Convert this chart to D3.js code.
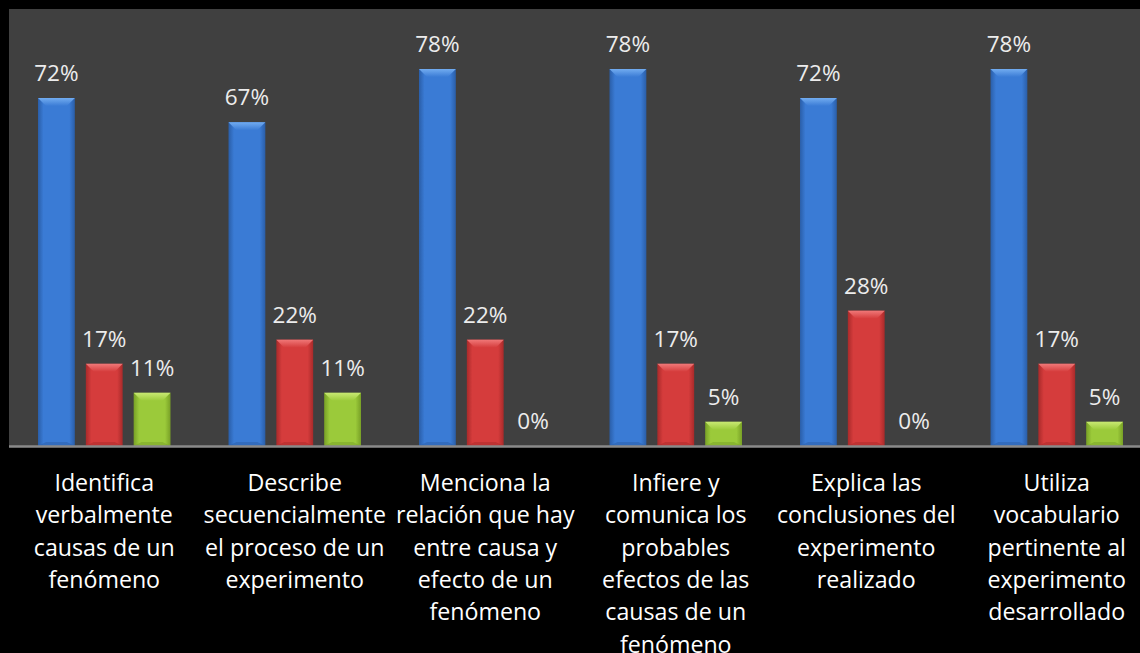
<!DOCTYPE html>
<html><head><meta charset="utf-8">
<script src="https://cdn.jsdelivr.net/npm/d3@7"></script>
<style>html,body{margin:0;padding:0;background:#000;overflow:hidden}</style>
</head><body><svg id="c" width="1140" height="653"></svg>
<script>
const categories = [
  ["Identifica","verbalmente","causas de un","fenómeno"],
  ["Describe","secuencialmente","el proceso de un","experimento"],
  ["Menciona la","relación que hay","entre causa y","efecto de un","fenómeno"],
  ["Infiere y","comunica los","probables","efectos de las","causas de un","fenómeno"],
  ["Explica las","conclusiones del","experimento","realizado"],
  ["Utiliza","vocabulario","pertinente al","experimento","desarrollado"]
];
const seriesA = [0.72, 0.67, 0.78, 0.78, 0.72, 0.78];
const seriesB = [0.17, 0.22, 0.22, 0.17, 0.28, 0.17];
const seriesC = [0.11, 0.11, 0.00, 0.05, 0.00, 0.05];
const seriesNames = ["A","B","C"];
const colors = [
  {main:"#3a7bd5", dark:"#2a5ea8", light:"#72acf0"},
  {main:"#d53c3c", dark:"#a92a2a", light:"#f07878"},
  {main:"#9bca3a", dark:"#78a026", light:"#c8e872"}
];

const svg = d3.select("#c");
const W = 1140, H = 653;
svg.append("rect").attr("width",W).attr("height",H).attr("fill","#000");
const pLeft = 9, pRight = 1152, pTop = 9, base = 446;
svg.append("rect").attr("x",pLeft).attr("y",pTop).attr("width",W-pLeft).attr("height",base-pTop).attr("fill","#404040");

const x0 = d3.scaleBand().domain(d3.range(categories.length)).range([pLeft,pRight]).paddingInner(0).paddingOuter(0);
const x1 = d3.scaleBand().domain(seriesNames).range([29, x0.bandwidth()-29]).paddingInner(0.23).paddingOuter(0);
const y = d3.scaleLinear().domain([0,0.9]).range([base, 11]);

const defs = svg.append("defs");
colors.forEach((c,i)=>{
  const g = defs.append("linearGradient").attr("id","g"+i).attr("x1","0").attr("x2","1").attr("y1","0").attr("y2","0");
  g.append("stop").attr("offset","0").attr("stop-color",c.dark);
  g.append("stop").attr("offset","0.15").attr("stop-color",c.main);
  g.append("stop").attr("offset","0.85").attr("stop-color",c.main);
  g.append("stop").attr("offset","1").attr("stop-color",c.dark);
  const t = defs.append("linearGradient").attr("id","t"+i).attr("x1","0").attr("x2","0").attr("y1","0").attr("y2","1");
  t.append("stop").attr("offset","0").attr("stop-color",c.light);
  t.append("stop").attr("offset","1").attr("stop-color",c.main);
});

const all = [seriesA, seriesB, seriesC];
const fmt = d3.format(".0%");
categories.forEach((cat,ci)=>{
  const g = svg.append("g").attr("transform",`translate(${x0(ci)},0)`);
  all.forEach((s,si)=>{
    const v = s[ci];
    const bx = x1(seriesNames[si]), bw = x1.bandwidth();
    const ty = y(v), h = base - ty;
    if (h > 0) {
      g.append("rect").attr("x",bx).attr("y",ty).attr("width",bw).attr("height",h).attr("fill",`url(#g${si})`);
      const b = Math.min(8, h/2);
      g.append("polygon").attr("points",`${bx},${ty} ${bx+bw},${ty} ${bx+bw-b},${ty+b} ${bx+b},${ty+b}`).attr("fill",`url(#t${si})`);
      g.append("polygon").attr("points",`${bx},${base} ${bx+bw},${base} ${bx+bw-b},${base-b/2} ${bx+b},${base-b/2}`).attr("fill",colors[si].dark).attr("opacity",0.5);
    }
    g.append("text").attr("x",bx+bw/2).attr("y",ty-17).attr("text-anchor","middle")
      .attr("font-family","'Open Sans', sans-serif").attr("font-size",22.5).attr("fill","#ececec").text(fmt(v));
  });
  const t = g.append("text").attr("text-anchor","middle").attr("font-family","'Open Sans', sans-serif")
    .attr("font-size",23.2).attr("fill","#ffffff");
  cat.forEach((line,li)=>{
    t.append("tspan").attr("x",x0.bandwidth()/2).attr("y",491+li*32.3).text(line);
  });
});
svg.append("line").attr("x1",pLeft).attr("x2",W).attr("y1",base+0.5).attr("y2",base+0.5).attr("stroke","#8a8a8a").attr("stroke-width",2.5);
</script></body></html>
